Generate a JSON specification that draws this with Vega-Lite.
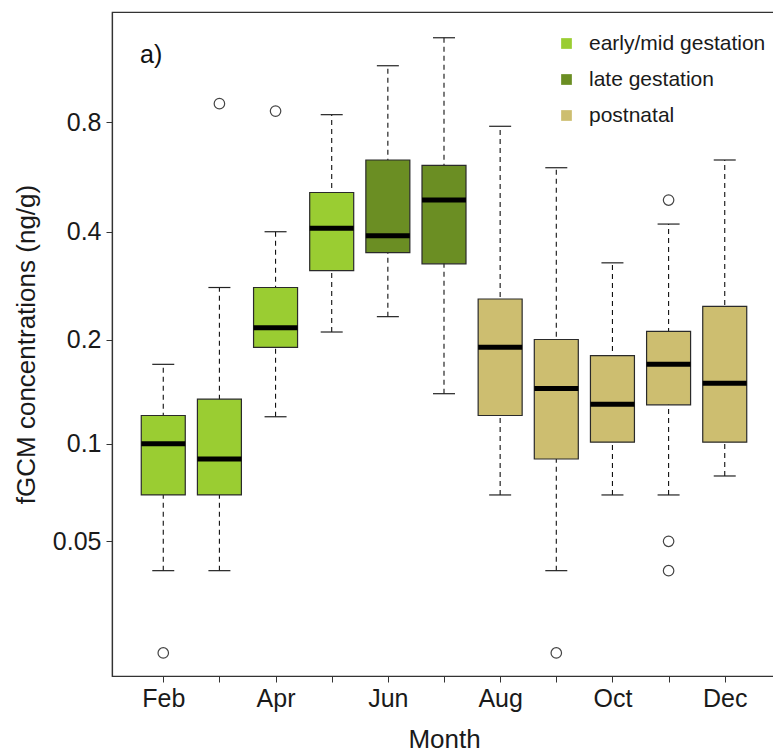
{
  "$schema": "https://vega.github.io/schema/vega-lite/v6.json",
  "autosize": "none",
  "padding": {"left": 112, "top": 12, "right": -3, "bottom": 78},
  "width": 664,
  "height": 664,
  "title": {
    "text": "a)",
    "anchor": "start",
    "frame": "group",
    "orient": "top",
    "offset": 0,
    "dx": 28,
    "dy": 76,
    "baseline": "alphabetic",
    "font": "Liberation Sans",
    "fontSize": 25,
    "fontWeight": "normal",
    "color": "#111111"
  },
  "config": {
    "font": "Liberation Sans",
    "view": {"stroke": "#333333", "strokeWidth": 1.2},
    "axis": {
      "labelFont": "Liberation Sans",
      "titleFont": "Liberation Sans",
      "labelFontSize": 25,
      "titleFontSize": 26,
      "titleFontWeight": "normal",
      "labelColor": "#1a1a1a",
      "titleColor": "#1a1a1a",
      "tickColor": "#333333",
      "domainColor": "#333333",
      "domainWidth": 1.2,
      "tickSize": 6,
      "grid": false
    },
    "legend": {
      "labelFont": "Liberation Sans",
      "labelFontSize": 21,
      "labelColor": "#1a1a1a",
      "labelLimit": 0
    }
  },
  "datasets": {
    "boxes": [
      {"month": "Feb", "stage": "early/mid gestation", "lower": 0.040, "q1": 0.070, "median": 0.100, "q3": 0.121, "upper": 0.170},
      {"month": "Mar", "stage": "early/mid gestation", "lower": 0.040, "q1": 0.070, "median": 0.090, "q3": 0.135, "upper": 0.280},
      {"month": "Apr", "stage": "early/mid gestation", "lower": 0.120, "q1": 0.190, "median": 0.216, "q3": 0.280, "upper": 0.400},
      {"month": "May", "stage": "early/mid gestation", "lower": 0.210, "q1": 0.312, "median": 0.409, "q3": 0.513, "upper": 0.838},
      {"month": "Jun", "stage": "late gestation", "lower": 0.232, "q1": 0.350, "median": 0.390, "q3": 0.630, "upper": 1.139},
      {"month": "Jul", "stage": "late gestation", "lower": 0.140, "q1": 0.326, "median": 0.489, "q3": 0.609, "upper": 1.357},
      {"month": "Aug", "stage": "postnatal", "lower": 0.070, "q1": 0.121, "median": 0.190, "q3": 0.260, "upper": 0.779},
      {"month": "Sep", "stage": "postnatal", "lower": 0.040, "q1": 0.090, "median": 0.145, "q3": 0.200, "upper": 0.600},
      {"month": "Oct", "stage": "postnatal", "lower": 0.070, "q1": 0.101, "median": 0.1305, "q3": 0.180, "upper": 0.328},
      {"month": "Nov", "stage": "postnatal", "lower": 0.070, "q1": 0.130, "median": 0.170, "q3": 0.211, "upper": 0.420},
      {"month": "Dec", "stage": "postnatal", "lower": 0.080, "q1": 0.101, "median": 0.150, "q3": 0.248, "upper": 0.630}
    ],
    "outliers": [
      {"month": "Feb", "value": 0.020},
      {"month": "Mar", "value": 0.898},
      {"month": "Apr", "value": 0.857},
      {"month": "Sep", "value": 0.020},
      {"month": "Nov", "value": 0.489},
      {"month": "Nov", "value": 0.050},
      {"month": "Nov", "value": 0.040}
    ]
  },
  "encoding": {
    "x": {
      "field": "month",
      "type": "ordinal",
      "sort": ["Feb", "Mar", "Apr", "May", "Jun", "Jul", "Aug", "Sep", "Oct", "Nov", "Dec"],
      "scale": {"type": "point", "padding": 0.913},
      "axis": {
        "title": "Month",
        "labelAngle": 0,
        "labelPadding": 4,
        "titlePadding": 15,
        "labelExpr": "indexof(['Feb','Apr','Jun','Aug','Oct','Dec'], datum.value) >= 0 ? datum.value : ''"
      }
    }
  },
  "layer": [
    {
      "data": {"name": "boxes"},
      "mark": {"type": "rule", "color": "#111111", "opacity": 1, "strokeWidth": 1.1, "strokeDash": [5, 4]},
      "encoding": {
        "y": {
          "field": "lower",
          "type": "quantitative",
          "scale": {"type": "symlog", "constant": 0.01, "domain": [0.016, 1.594], "nice": false, "zero": false},
          "axis": {
            "title": "fGCM concentrations (ng/g)",
            "values": [0.05, 0.1, 0.2, 0.4, 0.8],
            "format": "~g",
            "labelPadding": 5,
            "titlePadding": 13
          }
        },
        "y2": {"field": "upper"}
      }
    },
    {
      "data": {"name": "boxes"},
      "mark": {"type": "tick", "color": "#222222", "opacity": 1, "size": 22, "thickness": 1.2},
      "encoding": {"y": {"field": "upper", "type": "quantitative"}}
    },
    {
      "data": {"name": "boxes"},
      "mark": {"type": "tick", "color": "#222222", "opacity": 1, "size": 22, "thickness": 1.2},
      "encoding": {"y": {"field": "lower", "type": "quantitative"}}
    },
    {
      "data": {"name": "boxes"},
      "mark": {"type": "bar", "size": 44, "stroke": "#2a2a2a", "strokeWidth": 1.2, "opacity": 1},
      "encoding": {
        "y": {"field": "q1", "type": "quantitative"},
        "y2": {"field": "q3"},
        "color": {
          "field": "stage",
          "type": "nominal",
          "scale": {
            "domain": ["early/mid gestation", "late gestation", "postnatal"],
            "range": ["#9ACD32", "#6B8E23", "#CDBE70"]
          },
          "legend": {
            "title": null,
            "orient": "none",
            "legendX": 444,
            "legendY": 21,
            "symbolType": "square",
            "symbolSize": 115,
            "symbolStrokeWidth": 0,
            "symbolOpacity": 1,
            "labelOffset": 12,
            "rowPadding": 14,
            "padding": 0
          }
        }
      }
    },
    {
      "data": {"name": "boxes"},
      "mark": {"type": "tick", "color": "#000000", "opacity": 1, "size": 44, "thickness": 5},
      "encoding": {"y": {"field": "median", "type": "quantitative"}}
    },
    {
      "data": {"name": "outliers"},
      "mark": {"type": "point", "shape": "circle", "filled": false, "opacity": 1, "size": 110, "stroke": "#444444", "strokeWidth": 1.2},
      "encoding": {"y": {"field": "value", "type": "quantitative"}}
    }
  ]
}
